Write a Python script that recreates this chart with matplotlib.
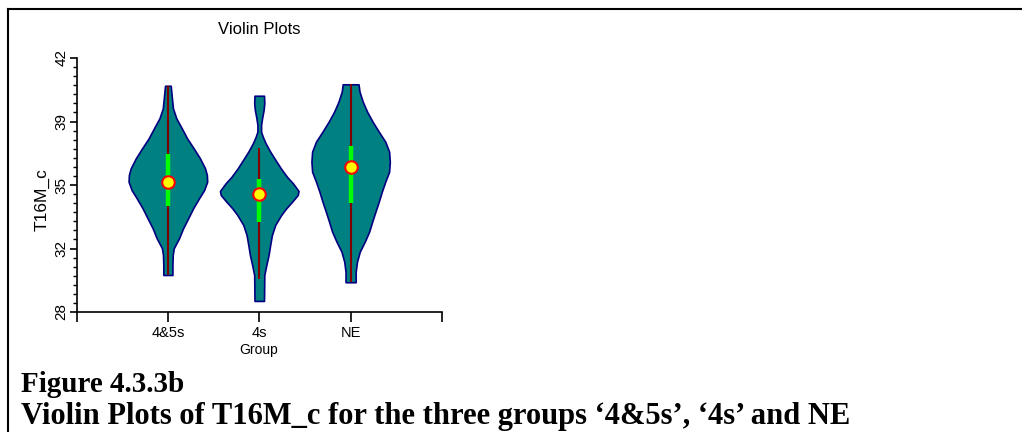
import matplotlib
matplotlib.use("Agg")
import matplotlib.pyplot as plt
from matplotlib.ticker import MultipleLocator
from matplotlib.lines import Line2D

# Groupes et profils de densite (y, largeur relative)
groupes = ["4&5s", "4s", "NE"]

y_45s = [40.47, 39.96, 39.23, 38.68, 38.13, 37.57, 37.02, 36.47, 35.92, 35.55, 35.18,
         34.72, 34.27, 33.72, 33.16, 32.61, 32.06, 31.51, 31.14, 30.59, 30.04]
w_45s = [2.8, 3.7, 5.0, 8.3, 13.7, 19.0, 25.5, 31.7, 36.7, 38.5, 38.8,
         35.8, 30.8, 25.0, 20.0, 15.0, 11.0, 5.8, 4.8, 4.5, 4.5]

y_4s = [39.92, 39.50, 39.13, 38.68, 38.31, 37.94, 37.66, 37.30, 36.84, 36.38, 35.92,
        35.46, 35.09, 34.67, 34.45, 34.08, 33.72, 33.35, 32.80, 32.24, 31.69, 31.14,
        30.59, 30.04, 28.61]
w_4s = [4.7, 5.0, 4.3, 2.8, 1.8, 1.8, 3.5, 6.3, 10.8, 16.0, 21.3,
        27.3, 33.3, 38.8, 38.0, 32.5, 26.7, 21.7, 15.8, 12.5, 10.8, 9.2,
        7.0, 5.0, 4.7]

y_ne = [40.55, 40.14, 39.59, 39.04, 38.49, 37.94, 37.39, 36.84, 36.28, 35.73, 35.18,
        34.63, 34.08, 33.53, 32.98, 32.43, 31.88, 31.32, 30.77, 30.22, 29.64]
w_ne = [7.8, 8.8, 12.0, 16.3, 21.7, 27.8, 34.2, 38.0, 38.7, 38.0, 34.2,
        30.8, 27.8, 24.5, 21.3, 18.3, 14.0, 9.0, 6.3, 5.0, 5.0]

moyennes = [35.18, 34.49, 36.01]
q1 = [33.84, 32.98, 34.02]
q3 = [36.69, 35.31, 37.17]
moust_bas = [30.04, 29.80, 29.64]
moust_haut = [40.47, 37.02, 40.55]

yticks_pos = [28, 31.5, 35, 38.5, 42]
yticks_lab = ["28", "32", "35", "39", "42"]

profils = [(y_45s, w_45s), (y_4s, w_4s), (y_ne, w_ne)]
largeur_max = max(max(w) for _, w in profils)
echelle = 0.43 / largeur_max

plt.rcParams["font.family"] = ["Liberation Sans", "DejaVu Sans"]

fig = plt.figure(figsize=(10.22, 4.32), dpi=100)
ax = fig.add_axes([76.5 / 1022, 1 - 312 / 432, (442 - 76.5) / 1022, (312 - 58) / 432])

for i, (ys, ws) in enumerate(profils):
    c = i + 1
    demi = [w * echelle for w in ws]
    ax.fill_betweenx(ys, [c - d for d in demi], [c + d for d in demi],
                     facecolor="#008080", edgecolor="#000080", linewidth=1.2, zorder=2)
    ax.plot([c, c], [moust_bas[i], moust_haut[i]], color="#800000",
            linewidth=1.5, solid_capstyle="butt", zorder=3)
    ax.plot([c, c], [q1[i], q3[i]], color="#00FF00",
            linewidth=3.2, solid_capstyle="butt", zorder=4)
    ax.plot([c], [moyennes[i]], marker="o", markersize=9,
            markerfacecolor="#FFFF00", markeredgecolor="#FF0000",
            markeredgewidth=1.5, zorder=5)

ax.set_xlim(0, 4)
ax.set_ylim(28, 42)
ax.set_xticks([0, 1, 2, 3, 4])
ax.set_xticklabels([""] + groupes + [""], fontsize=10.5)
ax.set_yticks(yticks_pos)
ax.set_yticklabels(yticks_lab, fontsize=11, rotation=90, va="center")
ax.yaxis.set_minor_locator(MultipleLocator(0.5))
ax.tick_params(axis="x", direction="out", length=7, width=1.2, pad=3)
ax.tick_params(axis="y", which="major", direction="out", length=5, width=1.2, pad=1)
ax.tick_params(axis="y", which="minor", direction="out", length=3, width=1.0)
for s in ["top", "right"]:
    ax.spines[s].set_visible(False)
for s in ["left", "bottom"]:
    ax.spines[s].set_linewidth(1.2)

fig.text(259 / 1022, 1 - 30 / 432, "Violin Plots", fontsize=12, ha="center", va="center")
fig.text(42 / 1022, 1 - 200 / 432, "T16M_c", fontsize=12.5, rotation=90, ha="center", va="center")
fig.text(259 / 1022, 1 - 350 / 432, "Group", fontsize=10, ha="center", va="center")

fig.text(21 / 1022, 1 - 392 / 432, "Figure 4.3.3b", fontsize=21, fontweight="bold",
         family="Liberation Serif", ha="left", va="baseline")
fig.text(21 / 1022, 1 - 424 / 432,
         "Violin Plots of T16M_c for the three groups \u20184&5s\u2019, \u20184s\u2019 and NE",
         fontsize=22, fontweight="bold", family="Liberation Serif", ha="left", va="baseline")

# cadre de la page (haut et gauche)
fig.add_artist(Line2D([7.5 / 1022, 7.5 / 1022], [0, 1 - 9 / 432], color="black", linewidth=1.5))
fig.add_artist(Line2D([7.5 / 1022, 1], [1 - 9 / 432, 1 - 9 / 432], color="black", linewidth=1.5))

fig.savefig("out.png", dpi=100)
